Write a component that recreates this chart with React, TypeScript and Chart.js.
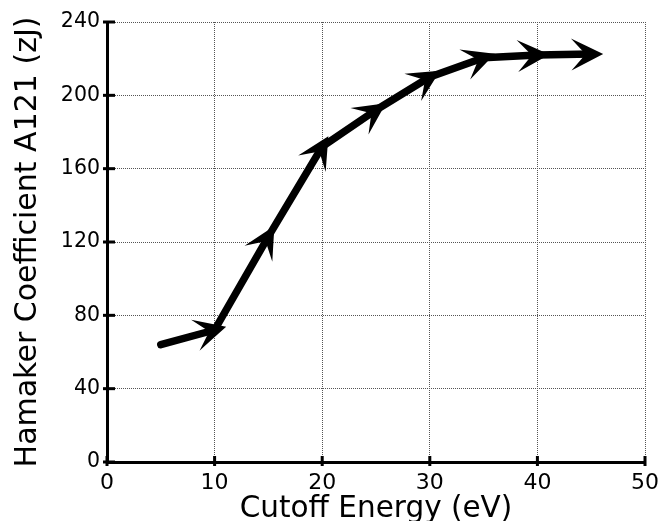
import React, { useEffect, useRef } from "react";
import { Chart, registerables } from "chart.js";

Chart.register(...registerables);

// Data
const cutoffEnergy = [5, 10, 15, 20, 25, 30, 35, 40, 45];
const hamaker = [64, 72, 123, 172, 192, 210, 220.5, 222, 222.5];
const xTicks = [0, 10, 20, 30, 40, 50];
const yTicks = [0, 40, 80, 120, 160, 200, 240];
const xTitle = "Cutoff Energy (eV)";
const yTitle = "Hamaker Coefficient A121 (zJ)";

const arrowPlugin = {
  id: "arrowHeads",
  afterDatasetsDraw(chart: any) {
    const meta = chart.getDatasetMeta(0);
    const pts = meta.data;
    const ctx = chart.ctx;
    ctx.save();
    ctx.fillStyle = "#000";
    const L = 32;
    const W = 16;
    const over = 12;
    for (let i = 1; i < pts.length; i++) {
      const p0 = pts[i - 1];
      const p1 = pts[i];
      const dx = p1.x - p0.x;
      const dy = p1.y - p0.y;
      const len = Math.hypot(dx, dy) || 1;
      const ux = dx / len;
      const uy = dy / len;
      const nx = -uy;
      const ny = ux;
      const tx = p1.x + ux * over;
      const ty = p1.y + uy * over;
      const at = (a: number, b: number) => [tx + ux * a + nx * b, ty + uy * a + ny * b];
      const w1 = at(-L, W);
      const w2 = at(-L, -W);
      const notch = at(-L * 0.55, 0);
      const c1 = at(-L * 0.5, W * 0.5);
      const c2 = at(-L * 0.5, -W * 0.5);
      ctx.beginPath();
      ctx.moveTo(tx, ty);
      ctx.quadraticCurveTo(c1[0], c1[1], w1[0], w1[1]);
      ctx.lineTo(notch[0], notch[1]);
      ctx.lineTo(w2[0], w2[1]);
      ctx.quadraticCurveTo(c2[0], c2[1], tx, ty);
      ctx.closePath();
      ctx.fill();
    }
    ctx.restore();
  },
};

const tickMarkPlugin = {
  id: "axisTickMarks",
  afterDraw(chart: any) {
    const ctx = chart.ctx;
    const xs = chart.scales.x;
    const ys = chart.scales.y;
    const area = chart.chartArea;
    ctx.save();
    ctx.fillStyle = "#000";
    yTicks.forEach((v) => {
      const py = ys.getPixelForValue(v);
      ctx.fillRect(area.left - 4, py - 1.5, 12, 3);
    });
    xTicks.forEach((v) => {
      const px = xs.getPixelForValue(v);
      ctx.fillRect(px - 1.5, area.bottom - 6, 3, 10);
    });
    ctx.restore();
  },
};

export default function App() {
  const ref = useRef<HTMLCanvasElement | null>(null);

  useEffect(() => {
    if (!ref.current) return;
    const chart = new Chart(ref.current, {
      type: "line",
      data: {
        datasets: [
          {
            data: cutoffEnergy.map((x, i) => ({ x, y: hamaker[i] })),
            borderColor: "#000",
            backgroundColor: "#000",
            borderWidth: 7.5,
            borderCapStyle: "round",
            borderJoinStyle: "round",
            pointRadius: 0,
            tension: 0,
            fill: false,
          },
        ],
      },
      options: {
        animation: false,
        responsive: false,
        layout: { padding: { top: 22, right: 14, left: 0, bottom: 0 } },
        plugins: {
          legend: { display: false },
          tooltip: { enabled: false },
        },
        scales: {
          x: {
            type: "linear",
            min: 0,
            max: 50,
            afterFit: (s: any) => {
              s.height = 59;
            },
            afterBuildTicks: (s: any) => {
              s.ticks = xTicks.map((v) => ({ value: v }));
            },
            ticks: {
              color: "#000",
              padding: 8,
              maxRotation: 0,
              font: { family: "DejaVu Sans", size: 22 },
            },
            grid: {
              color: "#555",
              lineWidth: 1,
              drawTicks: false,
            },
            border: { display: true, color: "#000", width: 3, dash: [1, 1] },
            title: {
              display: true,
              text: xTitle,
              color: "#000",
              font: { family: "DejaVu Sans", size: 29.5, lineHeight: 1 },
              padding: { top: 0, bottom: -3 },
            },
          },
          y: {
            type: "linear",
            min: 0,
            max: 240,
            afterFit: (s: any) => {
              s.width = 107;
            },
            afterBuildTicks: (s: any) => {
              s.ticks = yTicks.map((v) => ({ value: v }));
            },
            ticks: {
              color: "#000",
              padding: 7,
              font: { family: "DejaVu Sans", size: 20.5 },
            },
            grid: {
              color: "#555",
              lineWidth: 1,
              drawTicks: false,
            },
            border: { display: true, color: "#000", width: 3, dash: [1, 1] },
            title: {
              display: true,
              text: yTitle,
              color: "#000",
              font: { family: "DejaVu Sans", size: 30 },
              padding: { top: 10, bottom: 0 },
            },
          },
        },
      },
      plugins: [arrowPlugin, tickMarkPlugin],
    } as any);
    return () => chart.destroy();
  }, []);

  return (
    <div style={{ position: "fixed", left: 0, top: 0, width: 667, height: 521, background: "#fff" }}>
      <canvas ref={ref} width={667} height={521} />
    </div>
  );
}
